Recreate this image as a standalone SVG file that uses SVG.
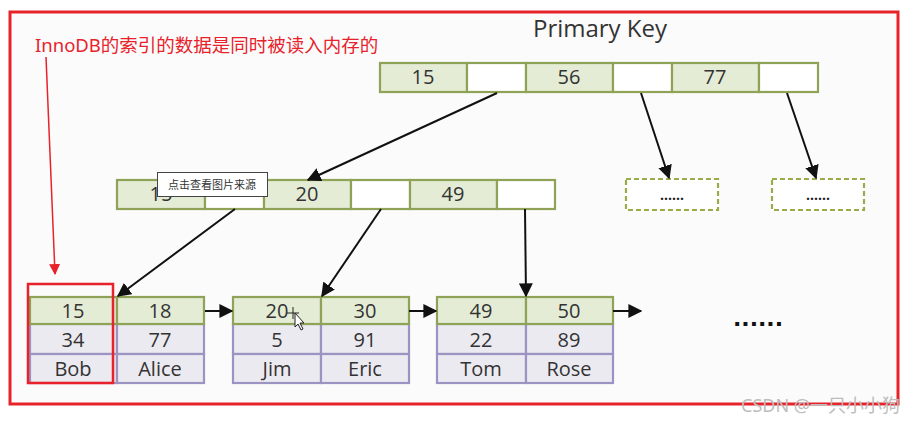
<svg xmlns="http://www.w3.org/2000/svg" width="916" height="421" viewBox="0 0 916 421">
<defs>
<style>
.g{fill:#e4ecd6;stroke:#8ea356;stroke-width:2.2}
.w{fill:#ffffff;stroke:#8ea356;stroke-width:2.2}
.p{fill:#eceaf1;stroke:#9d93c3;stroke-width:2.2}
.d{fill:#ffffff;stroke:#98ad4a;stroke-width:2.2;stroke-dasharray:5 3}
.t{font-family:"Open Sans","Noto Sans","DejaVu Sans",sans-serif;font-size:20px;fill:#333;text-anchor:middle}
.c{stroke:#111;stroke-width:2;fill:none}
.dot{font-family:"Open Sans","DejaVu Sans",sans-serif;font-size:14px;fill:#222;text-anchor:middle;font-weight:bold}
</style>
<marker id="ah2" viewBox="0 0 10 10" refX="9" refY="5" markerWidth="14" markerHeight="14" markerUnits="userSpaceOnUse" orient="auto">
<path d="M0,0 L10,5 L0,10 z" fill="#111"/>
</marker>
<marker id="rh" viewBox="0 0 10 10" refX="9" refY="5" markerWidth="11" markerHeight="11" markerUnits="userSpaceOnUse" orient="auto">
<path d="M0,0 L10,5 L0,10 z" fill="#e8222b"/>
</marker>
</defs>
<rect x="0" y="0" width="916" height="421" fill="#ffffff"/>
<rect x="10" y="12" width="888" height="392" fill="#fbfbfb"/>

<text x="600" y="37" font-family="'Open Sans','Noto Sans',sans-serif" font-size="24" fill="#333" text-anchor="middle">Primary Key</text>

<g id="root">
<rect class="g" x="380" y="63" width="87" height="29"/>
<rect class="w" x="467" y="63" width="59" height="29"/>
<rect class="g" x="526" y="63" width="87" height="29"/>
<rect class="w" x="613" y="63" width="59" height="29"/>
<rect class="g" x="672" y="63" width="87" height="29"/>
<rect class="w" x="759" y="63" width="59" height="29"/>
<text class="t" x="423" y="84">15</text>
<text class="t" x="569" y="84">56</text>
<text class="t" x="715" y="84">77</text>
</g>

<g id="mid">
<rect class="g" x="117" y="180" width="88" height="29"/>
<rect class="w" x="205" y="180" width="59" height="29"/>
<rect class="g" x="264" y="180" width="87" height="29"/>
<rect class="w" x="351" y="180" width="59" height="29"/>
<rect class="g" x="410" y="180" width="87" height="29"/>
<rect class="w" x="497" y="180" width="58" height="29"/>
<text class="t" x="161" y="201">15</text>
<text class="t" x="307" y="201">20</text>
<text class="t" x="453" y="201">49</text>
</g>

<g id="dash1">
<rect class="d" x="626" y="179" width="92" height="31"/>
<text class="dot" x="672" y="200">......</text>
</g>
<g id="dash2">
<rect class="d" x="772" y="179" width="92" height="31"/>
<text class="dot" x="818" y="200">......</text>
</g>

<g id="leaf1">
<rect class="p" x="30" y="324" width="87" height="30"/>
<rect class="p" x="117" y="324" width="87" height="30"/>
<rect class="p" x="30" y="354" width="87" height="29"/>
<rect class="p" x="117" y="354" width="87" height="29"/>
<rect class="g" x="30" y="297" width="87" height="27"/>
<rect class="g" x="117" y="297" width="87" height="27"/>
<text class="t" x="73" y="318">15</text>
<text class="t" x="160" y="318">18</text>
<text class="t" x="73" y="347">34</text>
<text class="t" x="160" y="347">77</text>
<text class="t" x="73" y="376">Bob</text>
<text class="t" x="160" y="376">Alice</text>
</g>

<g id="leaf2">
<rect class="p" x="233" y="324" width="88" height="30"/>
<rect class="p" x="321" y="324" width="88" height="30"/>
<rect class="p" x="233" y="354" width="88" height="29"/>
<rect class="p" x="321" y="354" width="88" height="29"/>
<rect class="g" x="233" y="297" width="88" height="27"/>
<rect class="g" x="321" y="297" width="88" height="27"/>
<text class="t" x="277" y="318">20</text>
<text class="t" x="365" y="318">30</text>
<text class="t" x="277" y="347">5</text>
<text class="t" x="365" y="347">91</text>
<text class="t" x="277" y="376">Jim</text>
<text class="t" x="365" y="376">Eric</text>
</g>

<g id="leaf3">
<rect class="p" x="437" y="324" width="89" height="30"/>
<rect class="p" x="526" y="324" width="87" height="30"/>
<rect class="p" x="437" y="354" width="89" height="29"/>
<rect class="p" x="526" y="354" width="87" height="29"/>
<rect class="g" x="437" y="297" width="89" height="27"/>
<rect class="g" x="526" y="297" width="87" height="27"/>
<text class="t" x="481" y="318">49</text>
<text class="t" x="569" y="318">50</text>
<text class="t" x="481" y="347">22</text>
<text class="t" x="569" y="347">89</text>
<text class="t" x="481" y="376">Tom</text>
<text class="t" x="569" y="376">Rose</text>
</g>

<g id="more">
<text x="758" y="326" font-family="'DejaVu Sans',sans-serif" font-size="22" font-weight="bold" fill="#111" text-anchor="middle">......</text>
</g>

<g id="connectors">
<line class="c" x1="497" y1="93" x2="308" y2="180" marker-end="url(#ah2)"/>
<line class="c" x1="641" y1="93" x2="669" y2="178" marker-end="url(#ah2)"/>
<line class="c" x1="787" y1="93" x2="816" y2="178" marker-end="url(#ah2)"/>
<line class="c" x1="235" y1="209" x2="118" y2="296" marker-end="url(#ah2)"/>
<line class="c" x1="381" y1="209" x2="322" y2="296" marker-end="url(#ah2)"/>
<line class="c" x1="525" y1="209" x2="526" y2="296" marker-end="url(#ah2)"/>
<line class="c" x1="205" y1="311" x2="232" y2="311" marker-end="url(#ah2)"/>
<line class="c" x1="409" y1="311" x2="436" y2="311" marker-end="url(#ah2)"/>
<line class="c" x1="613" y1="311" x2="641" y2="311" marker-end="url(#ah2)"/>
</g>

<g id="tooltip">
<rect x="157.5" y="172.5" width="110" height="24" fill="#ffffff" stroke="#444" stroke-width="1"/>
<text x="212" y="189" font-family="'Noto Sans CJK SC',sans-serif" font-size="11" fill="#333" text-anchor="middle">点击查看图片来源</text>
</g>

<g id="cursor">
<path d="M293,307 v12 M287,313 h12" stroke="#222" stroke-width="1"/>
<path d="M295,313 l0,14 l3,-3 l3,6 l2,-1 l-3,-6 l4,0 z" fill="#fff" stroke="#222" stroke-width="1"/>
</g>

<g id="annotation">
<rect x="10" y="12" width="888" height="392" fill="none" stroke="#e8222b" stroke-width="3"/>
<text x="35" y="52" font-family="'Noto Sans','Noto Sans CJK SC',sans-serif" font-size="18.5" fill="#e8222b">InnoDB的索引的数据是同时被读入内存的</text>
<line x1="46" y1="57" x2="55" y2="274" stroke="#e8222b" stroke-width="1.5" marker-end="url(#rh)"/>
<rect x="28" y="284" width="85" height="99" fill="none" stroke="#e8222b" stroke-width="2.5"/>
</g>

<text x="900" y="412" font-family="'Noto Sans','Noto Sans CJK SC',sans-serif" font-size="18" fill="#bdbdbd" text-anchor="end">CSDN @一只小小狗</text>
</svg>
